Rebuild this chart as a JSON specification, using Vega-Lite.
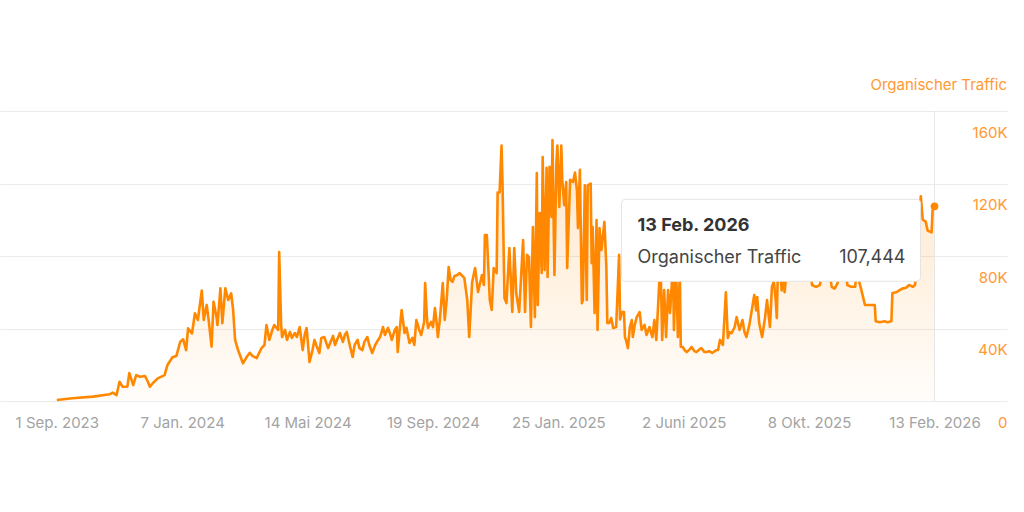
{
  "$schema": "https://vega.github.io/schema/vega-lite/v6.json",
  "width": 1007,
  "height": 290,
  "autosize": "none",
  "padding": {"left": 0, "top": 111, "right": 17, "bottom": 111},
  "background": "white",
  "title": {
    "text": "Organischer Traffic",
    "anchor": "end",
    "frame": "group",
    "color": "#ff9933",
    "font": "Inter",
    "fontSize": 15,
    "fontWeight": "normal",
    "offset": 18
  },
  "datasets": {
    "traffic": [
      {"date": "2023-09-01", "traffic": 550},
      {"date": "2023-09-17", "traffic": 1500},
      {"date": "2023-10-08", "traffic": 2400},
      {"date": "2023-10-25", "traffic": 3700},
      {"date": "2023-10-28", "traffic": 4600},
      {"date": "2023-11-01", "traffic": 3300},
      {"date": "2023-11-04", "traffic": 10600},
      {"date": "2023-11-07", "traffic": 7900},
      {"date": "2023-11-12", "traffic": 7900},
      {"date": "2023-11-14", "traffic": 15400},
      {"date": "2023-11-18", "traffic": 8800},
      {"date": "2023-11-21", "traffic": 14300},
      {"date": "2023-11-25", "traffic": 13400},
      {"date": "2023-11-30", "traffic": 13800},
      {"date": "2023-12-03", "traffic": 10600},
      {"date": "2023-12-05", "traffic": 7900},
      {"date": "2023-12-08", "traffic": 9800},
      {"date": "2023-12-13", "traffic": 12500},
      {"date": "2023-12-20", "traffic": 14300},
      {"date": "2023-12-23", "traffic": 19900},
      {"date": "2023-12-28", "traffic": 24100},
      {"date": "2024-01-01", "traffic": 24800},
      {"date": "2024-01-05", "traffic": 32700},
      {"date": "2024-01-08", "traffic": 34000},
      {"date": "2024-01-11", "traffic": 28100},
      {"date": "2024-01-13", "traffic": 40100},
      {"date": "2024-01-17", "traffic": 37300},
      {"date": "2024-01-20", "traffic": 48400},
      {"date": "2024-01-23", "traffic": 44700},
      {"date": "2024-01-27", "traffic": 60900},
      {"date": "2024-01-29", "traffic": 44700},
      {"date": "2024-02-01", "traffic": 53000},
      {"date": "2024-02-03", "traffic": 44700},
      {"date": "2024-02-06", "traffic": 30000},
      {"date": "2024-02-08", "traffic": 54800},
      {"date": "2024-02-11", "traffic": 46500},
      {"date": "2024-02-12", "traffic": 41900},
      {"date": "2024-02-15", "traffic": 62200},
      {"date": "2024-02-17", "traffic": 42900},
      {"date": "2024-02-20", "traffic": 62200},
      {"date": "2024-02-23", "traffic": 55700},
      {"date": "2024-02-26", "traffic": 59400},
      {"date": "2024-02-28", "traffic": 50200},
      {"date": "2024-03-01", "traffic": 33700},
      {"date": "2024-03-04", "traffic": 28100},
      {"date": "2024-03-09", "traffic": 20800},
      {"date": "2024-03-13", "traffic": 24400},
      {"date": "2024-03-16", "traffic": 26600},
      {"date": "2024-03-19", "traffic": 24800},
      {"date": "2024-03-23", "traffic": 23700},
      {"date": "2024-03-26", "traffic": 27000},
      {"date": "2024-03-28", "traffic": 29200},
      {"date": "2024-03-31", "traffic": 30900},
      {"date": "2024-04-02", "traffic": 41900},
      {"date": "2024-04-04", "traffic": 36400},
      {"date": "2024-04-05", "traffic": 33700},
      {"date": "2024-04-08", "traffic": 39200},
      {"date": "2024-04-10", "traffic": 41900},
      {"date": "2024-04-14", "traffic": 39200},
      {"date": "2024-04-15", "traffic": 82200},
      {"date": "2024-04-17", "traffic": 41900},
      {"date": "2024-04-18", "traffic": 35300},
      {"date": "2024-04-21", "traffic": 39200},
      {"date": "2024-04-23", "traffic": 33700},
      {"date": "2024-04-26", "traffic": 38100},
      {"date": "2024-04-28", "traffic": 34800},
      {"date": "2024-05-01", "traffic": 37500},
      {"date": "2024-05-03", "traffic": 35300},
      {"date": "2024-05-06", "traffic": 40800},
      {"date": "2024-05-09", "traffic": 28100},
      {"date": "2024-05-11", "traffic": 36400},
      {"date": "2024-05-13", "traffic": 40300},
      {"date": "2024-05-16", "traffic": 21500},
      {"date": "2024-05-19", "traffic": 28100},
      {"date": "2024-05-21", "traffic": 33700},
      {"date": "2024-05-24", "traffic": 29200},
      {"date": "2024-05-26", "traffic": 26500},
      {"date": "2024-05-28", "traffic": 34800},
      {"date": "2024-05-31", "traffic": 35300},
      {"date": "2024-06-04", "traffic": 29200},
      {"date": "2024-06-06", "traffic": 32000},
      {"date": "2024-06-09", "traffic": 35900},
      {"date": "2024-06-11", "traffic": 30900},
      {"date": "2024-06-13", "traffic": 33700},
      {"date": "2024-06-16", "traffic": 37500},
      {"date": "2024-06-19", "traffic": 32600},
      {"date": "2024-06-21", "traffic": 36400},
      {"date": "2024-06-23", "traffic": 38100},
      {"date": "2024-06-26", "traffic": 30900},
      {"date": "2024-06-29", "traffic": 24300},
      {"date": "2024-07-01", "traffic": 30900},
      {"date": "2024-07-04", "traffic": 33700},
      {"date": "2024-07-06", "traffic": 29200},
      {"date": "2024-07-09", "traffic": 28100},
      {"date": "2024-07-11", "traffic": 32600},
      {"date": "2024-07-14", "traffic": 35300},
      {"date": "2024-07-16", "traffic": 30900},
      {"date": "2024-07-19", "traffic": 26500},
      {"date": "2024-07-22", "traffic": 30900},
      {"date": "2024-07-25", "traffic": 33700},
      {"date": "2024-07-27", "traffic": 35300},
      {"date": "2024-07-30", "traffic": 40800},
      {"date": "2024-08-01", "traffic": 36400},
      {"date": "2024-08-04", "traffic": 40300},
      {"date": "2024-08-06", "traffic": 37500},
      {"date": "2024-08-08", "traffic": 33700},
      {"date": "2024-08-11", "traffic": 39200},
      {"date": "2024-08-13", "traffic": 40800},
      {"date": "2024-08-14", "traffic": 27000},
      {"date": "2024-08-16", "traffic": 39200},
      {"date": "2024-08-18", "traffic": 50200},
      {"date": "2024-08-21", "traffic": 37500},
      {"date": "2024-08-23", "traffic": 40300},
      {"date": "2024-08-26", "traffic": 32000},
      {"date": "2024-08-29", "traffic": 34800},
      {"date": "2024-08-31", "traffic": 30900},
      {"date": "2024-09-02", "traffic": 44700},
      {"date": "2024-09-05", "traffic": 39200},
      {"date": "2024-09-07", "traffic": 36400},
      {"date": "2024-09-10", "traffic": 43600},
      {"date": "2024-09-11", "traffic": 65100},
      {"date": "2024-09-13", "traffic": 44700},
      {"date": "2024-09-14", "traffic": 40300},
      {"date": "2024-09-17", "traffic": 43600},
      {"date": "2024-09-19", "traffic": 40800},
      {"date": "2024-09-21", "traffic": 51300},
      {"date": "2024-09-23", "traffic": 41900},
      {"date": "2024-09-24", "traffic": 35300},
      {"date": "2024-09-26", "traffic": 44700},
      {"date": "2024-09-29", "traffic": 65100},
      {"date": "2024-10-01", "traffic": 44700},
      {"date": "2024-10-03", "traffic": 55700},
      {"date": "2024-10-05", "traffic": 73900},
      {"date": "2024-10-07", "traffic": 66800},
      {"date": "2024-10-09", "traffic": 65700},
      {"date": "2024-10-11", "traffic": 69000},
      {"date": "2024-10-14", "traffic": 69500},
      {"date": "2024-10-16", "traffic": 70600},
      {"date": "2024-10-19", "traffic": 69000},
      {"date": "2024-10-21", "traffic": 67900},
      {"date": "2024-10-24", "traffic": 55700},
      {"date": "2024-10-26", "traffic": 35300},
      {"date": "2024-10-29", "traffic": 65700},
      {"date": "2024-11-01", "traffic": 73400},
      {"date": "2024-11-04", "traffic": 60100},
      {"date": "2024-11-08", "traffic": 69500},
      {"date": "2024-11-10", "traffic": 64000},
      {"date": "2024-11-11", "traffic": 91600},
      {"date": "2024-11-13", "traffic": 91600},
      {"date": "2024-11-16", "traffic": 55700},
      {"date": "2024-11-18", "traffic": 50200},
      {"date": "2024-11-20", "traffic": 73400},
      {"date": "2024-11-23", "traffic": 70600},
      {"date": "2024-11-24", "traffic": 115000},
      {"date": "2024-11-26", "traffic": 115000},
      {"date": "2024-11-28", "traffic": 141000},
      {"date": "2024-11-29", "traffic": 120000},
      {"date": "2024-12-01", "traffic": 56800},
      {"date": "2024-12-03", "traffic": 54000},
      {"date": "2024-12-06", "traffic": 84400},
      {"date": "2024-12-09", "traffic": 49100},
      {"date": "2024-12-11", "traffic": 84400},
      {"date": "2024-12-13", "traffic": 59600},
      {"date": "2024-12-16", "traffic": 49100},
      {"date": "2024-12-20", "traffic": 88800},
      {"date": "2024-12-22", "traffic": 49100},
      {"date": "2024-12-24", "traffic": 80600},
      {"date": "2024-12-26", "traffic": 79400},
      {"date": "2024-12-28", "traffic": 40800},
      {"date": "2024-12-30", "traffic": 96000},
      {"date": "2025-01-01", "traffic": 46300},
      {"date": "2025-01-03", "traffic": 125800},
      {"date": "2025-01-04", "traffic": 53000},
      {"date": "2025-01-06", "traffic": 103700},
      {"date": "2025-01-08", "traffic": 70600},
      {"date": "2025-01-09", "traffic": 134600},
      {"date": "2025-01-11", "traffic": 72300},
      {"date": "2025-01-13", "traffic": 128600},
      {"date": "2025-01-14", "traffic": 68400},
      {"date": "2025-01-16", "traffic": 129200},
      {"date": "2025-01-18", "traffic": 101500},
      {"date": "2025-01-19", "traffic": 144000},
      {"date": "2025-01-21", "traffic": 69500},
      {"date": "2025-01-23", "traffic": 131300},
      {"date": "2025-01-24", "traffic": 141000},
      {"date": "2025-01-26", "traffic": 107000},
      {"date": "2025-01-28", "traffic": 141000},
      {"date": "2025-01-29", "traffic": 122000},
      {"date": "2025-01-31", "traffic": 108000},
      {"date": "2025-02-02", "traffic": 120800},
      {"date": "2025-02-03", "traffic": 73400},
      {"date": "2025-02-06", "traffic": 122000},
      {"date": "2025-02-09", "traffic": 120800},
      {"date": "2025-02-11", "traffic": 126000},
      {"date": "2025-02-13", "traffic": 116000},
      {"date": "2025-02-14", "traffic": 95400},
      {"date": "2025-02-16", "traffic": 127500},
      {"date": "2025-02-18", "traffic": 54000},
      {"date": "2025-02-19", "traffic": 55700},
      {"date": "2025-02-21", "traffic": 119000},
      {"date": "2025-02-23", "traffic": 55700},
      {"date": "2025-02-24", "traffic": 119000},
      {"date": "2025-02-27", "traffic": 120000},
      {"date": "2025-02-28", "traffic": 76000},
      {"date": "2025-03-01", "traffic": 96000},
      {"date": "2025-03-03", "traffic": 48600},
      {"date": "2025-03-05", "traffic": 99900},
      {"date": "2025-03-06", "traffic": 39200},
      {"date": "2025-03-08", "traffic": 95400},
      {"date": "2025-03-10", "traffic": 83300},
      {"date": "2025-03-11", "traffic": 88800},
      {"date": "2025-03-13", "traffic": 98800},
      {"date": "2025-03-15", "traffic": 73900},
      {"date": "2025-03-16", "traffic": 43000},
      {"date": "2025-03-18", "traffic": 43000},
      {"date": "2025-03-20", "traffic": 45800},
      {"date": "2025-03-22", "traffic": 40300},
      {"date": "2025-03-25", "traffic": 40800},
      {"date": "2025-03-28", "traffic": 80600},
      {"date": "2025-03-29", "traffic": 45000},
      {"date": "2025-03-31", "traffic": 49100},
      {"date": "2025-04-02", "traffic": 49100},
      {"date": "2025-04-03", "traffic": 35300},
      {"date": "2025-04-04", "traffic": 33700},
      {"date": "2025-04-06", "traffic": 29200},
      {"date": "2025-04-08", "traffic": 40800},
      {"date": "2025-04-10", "traffic": 44700},
      {"date": "2025-04-11", "traffic": 35300},
      {"date": "2025-04-13", "traffic": 42000},
      {"date": "2025-04-15", "traffic": 46300},
      {"date": "2025-04-18", "traffic": 49100},
      {"date": "2025-04-20", "traffic": 39200},
      {"date": "2025-04-23", "traffic": 42000},
      {"date": "2025-04-25", "traffic": 36400},
      {"date": "2025-04-28", "traffic": 40800},
      {"date": "2025-05-01", "traffic": 35300},
      {"date": "2025-05-03", "traffic": 44700},
      {"date": "2025-05-05", "traffic": 33700},
      {"date": "2025-05-08", "traffic": 65000},
      {"date": "2025-05-09", "traffic": 85000},
      {"date": "2025-05-11", "traffic": 33700},
      {"date": "2025-05-13", "traffic": 61200},
      {"date": "2025-05-15", "traffic": 35300},
      {"date": "2025-05-17", "traffic": 61200},
      {"date": "2025-05-19", "traffic": 48600},
      {"date": "2025-05-22", "traffic": 75000},
      {"date": "2025-05-23", "traffic": 39200},
      {"date": "2025-05-25", "traffic": 78000},
      {"date": "2025-05-27", "traffic": 35300},
      {"date": "2025-05-29", "traffic": 72000},
      {"date": "2025-05-30", "traffic": 30000},
      {"date": "2025-06-01", "traffic": 29800},
      {"date": "2025-06-03", "traffic": 28000},
      {"date": "2025-06-05", "traffic": 27000},
      {"date": "2025-06-08", "traffic": 28500},
      {"date": "2025-06-10", "traffic": 29800},
      {"date": "2025-06-13", "traffic": 27500},
      {"date": "2025-06-15", "traffic": 27000},
      {"date": "2025-06-18", "traffic": 28500},
      {"date": "2025-06-20", "traffic": 29200},
      {"date": "2025-06-23", "traffic": 27000},
      {"date": "2025-06-25", "traffic": 27000},
      {"date": "2025-06-28", "traffic": 27500},
      {"date": "2025-07-01", "traffic": 26500},
      {"date": "2025-07-05", "traffic": 28000},
      {"date": "2025-07-07", "traffic": 28100},
      {"date": "2025-07-09", "traffic": 33700},
      {"date": "2025-07-12", "traffic": 30900},
      {"date": "2025-07-15", "traffic": 60000},
      {"date": "2025-07-17", "traffic": 34800},
      {"date": "2025-07-19", "traffic": 38000},
      {"date": "2025-07-21", "traffic": 37500},
      {"date": "2025-07-24", "traffic": 40800},
      {"date": "2025-07-26", "traffic": 46300},
      {"date": "2025-07-29", "traffic": 39200},
      {"date": "2025-08-01", "traffic": 44700},
      {"date": "2025-08-03", "traffic": 38000},
      {"date": "2025-08-05", "traffic": 35300},
      {"date": "2025-08-08", "traffic": 42000},
      {"date": "2025-08-10", "traffic": 48600},
      {"date": "2025-08-13", "traffic": 58500},
      {"date": "2025-08-15", "traffic": 50000},
      {"date": "2025-08-16", "traffic": 57400},
      {"date": "2025-08-18", "traffic": 43000},
      {"date": "2025-08-21", "traffic": 35300},
      {"date": "2025-08-24", "traffic": 46000},
      {"date": "2025-08-26", "traffic": 55700},
      {"date": "2025-08-29", "traffic": 40800},
      {"date": "2025-08-31", "traffic": 62900},
      {"date": "2025-09-02", "traffic": 66000},
      {"date": "2025-09-04", "traffic": 55000},
      {"date": "2025-09-05", "traffic": 45800},
      {"date": "2025-09-06", "traffic": 70000},
      {"date": "2025-09-08", "traffic": 75000},
      {"date": "2025-09-10", "traffic": 61000},
      {"date": "2025-09-11", "traffic": 72000},
      {"date": "2025-09-13", "traffic": 60000},
      {"date": "2025-09-16", "traffic": 78000},
      {"date": "2025-09-20", "traffic": 80000},
      {"date": "2025-09-24", "traffic": 76000},
      {"date": "2025-09-28", "traffic": 82000},
      {"date": "2025-10-03", "traffic": 78000},
      {"date": "2025-10-08", "traffic": 80000},
      {"date": "2025-10-11", "traffic": 64000},
      {"date": "2025-10-15", "traffic": 63000},
      {"date": "2025-10-19", "traffic": 64000},
      {"date": "2025-10-23", "traffic": 78000},
      {"date": "2025-10-27", "traffic": 80000},
      {"date": "2025-10-31", "traffic": 63000},
      {"date": "2025-11-03", "traffic": 62000},
      {"date": "2025-11-06", "traffic": 65000},
      {"date": "2025-11-10", "traffic": 78000},
      {"date": "2025-11-13", "traffic": 80000},
      {"date": "2025-11-16", "traffic": 64000},
      {"date": "2025-11-20", "traffic": 63000},
      {"date": "2025-11-24", "traffic": 63000},
      {"date": "2025-11-26", "traffic": 75000},
      {"date": "2025-11-28", "traffic": 66000},
      {"date": "2025-11-30", "traffic": 62000},
      {"date": "2025-12-04", "traffic": 53000},
      {"date": "2025-12-09", "traffic": 53000},
      {"date": "2025-12-14", "traffic": 53000},
      {"date": "2025-12-15", "traffic": 44000},
      {"date": "2025-12-19", "traffic": 43500},
      {"date": "2025-12-24", "traffic": 44000},
      {"date": "2025-12-27", "traffic": 43500},
      {"date": "2025-12-31", "traffic": 44000},
      {"date": "2026-01-01", "traffic": 59600},
      {"date": "2026-01-05", "traffic": 60000},
      {"date": "2026-01-08", "traffic": 61000},
      {"date": "2026-01-11", "traffic": 62000},
      {"date": "2026-01-15", "traffic": 62500},
      {"date": "2026-01-18", "traffic": 64000},
      {"date": "2026-01-22", "traffic": 63000},
      {"date": "2026-01-24", "traffic": 64000},
      {"date": "2026-01-26", "traffic": 72000},
      {"date": "2026-01-28", "traffic": 95000},
      {"date": "2026-01-30", "traffic": 113000},
      {"date": "2026-02-01", "traffic": 100000},
      {"date": "2026-02-04", "traffic": 99000},
      {"date": "2026-02-06", "traffic": 94000},
      {"date": "2026-02-10", "traffic": 93000},
      {"date": "2026-02-11", "traffic": 105000},
      {"date": "2026-02-13", "traffic": 107444}
    ],
    "tip": [
      {"date": "2026-02-13", "label": "13 Feb. 2026", "series": "Organischer Traffic", "traffic": 107444}
    ]
  },
  "encoding": {
    "x": {
      "field": "date",
      "type": "temporal",
      "title": null,
      "scale": {
        "type": "utc",
        "domain": [
          {"year": 2023, "month": 7, "date": 5, "utc": true},
          {"year": 2026, "month": 4, "date": 28, "utc": true}
        ]
      },
      "axis": {
        "values": [
          {"year": 2023, "month": 9, "date": 1, "utc": true},
          {"year": 2024, "month": 1, "date": 7, "utc": true},
          {"year": 2024, "month": 5, "date": 14, "utc": true},
          {"year": 2024, "month": 9, "date": 19, "utc": true},
          {"year": 2025, "month": 1, "date": 25, "utc": true},
          {"year": 2025, "month": 6, "date": 2, "utc": true},
          {"year": 2025, "month": 10, "date": 8, "utc": true},
          {"year": 2026, "month": 2, "date": 13, "utc": true}
        ],
        "labelExpr": "utcdate(datum.value) + ' ' + ['Jan.','Feb.','März','Apr.','Mai','Juni','Juli','Aug.','Sep.','Okt.','Nov.','Dez.'][utcmonth(datum.value)] + ' ' + utcyear(datum.value)",
        "grid": false,
        "domain": false,
        "ticks": false,
        "tickSize": 0,
        "labelPadding": 21,
        "labelBaseline": "middle",
        "labelFont": "Inter",
        "labelFontSize": 15,
        "labelColor": "#a3a3a3",
        "labelFlush": false,
        "labelOverlap": false
      }
    },
    "y": {
      "field": "traffic",
      "type": "quantitative",
      "title": null,
      "scale": {"domain": [0, 160000], "nice": false},
      "axis": {
        "orient": "right",
        "values": [0, 40000, 80000, 120000, 160000],
        "labelExpr": "datum.value == 0 ? '0' : (datum.value / 1000) + 'K'",
        "grid": true,
        "gridColor": "#ebebeb",
        "gridWidth": 1,
        "domain": false,
        "ticks": false,
        "tickSize": 0,
        "labelPadding": 0,
        "labelAlign": "right",
        "labelBaseline": "middle",
        "labelOffset": 21,
        "labelFont": "Inter",
        "labelFontSize": 15,
        "labelColor": "#ff9933",
        "labelFlush": false,
        "labelOverlap": false
      }
    }
  },
  "layer": [
    {
      "data": {"name": "traffic"},
      "mark": {
        "type": "area",
        "color": {
          "gradient": "linear",
          "x1": 0, "y1": 0, "x2": 0, "y2": 1,
          "stops": [
            {"offset": 0, "color": "rgba(255,140,0,0.22)"},
            {"offset": 1, "color": "rgba(255,140,0,0.02)"}
          ]
        }
      }
    },
    {
      "data": {"name": "traffic"},
      "mark": {"type": "line", "color": "#ff8800", "strokeWidth": 2.6, "strokeJoin": "round"}
    },
    {
      "data": {"name": "tip"},
      "mark": {"type": "rule", "color": "#e6e6e6", "strokeWidth": 1},
      "encoding": {
        "y": {"datum": 0},
        "y2": {"datum": 160000}
      }
    },
    {
      "data": {"name": "tip"},
      "mark": {
        "type": "rect",
        "fill": "white",
        "stroke": "#e4e4e4",
        "strokeWidth": 1,
        "cornerRadius": 4,
        "xOffset": -313,
        "x2Offset": -14,
        "yOffset": -7,
        "y2Offset": 75
      },
      "encoding": {
        "x2": {"field": "date"},
        "y2": {"field": "traffic"}
      }
    },
    {
      "data": {"name": "tip"},
      "mark": {
        "type": "text",
        "align": "left",
        "baseline": "alphabetic",
        "dx": -297,
        "dy": 25,
        "font": "Inter",
        "fontSize": 18,
        "fontWeight": "bold",
        "color": "#333333"
      },
      "encoding": {"text": {"field": "label"}}
    },
    {
      "data": {"name": "tip"},
      "mark": {
        "type": "text",
        "align": "left",
        "baseline": "alphabetic",
        "dx": -297,
        "dy": 57,
        "font": "Inter",
        "fontSize": 18,
        "color": "#444444"
      },
      "encoding": {"text": {"field": "series"}}
    },
    {
      "data": {"name": "tip"},
      "mark": {
        "type": "text",
        "align": "right",
        "baseline": "alphabetic",
        "dx": -29,
        "dy": 57,
        "font": "Inter",
        "fontSize": 18,
        "color": "#444444"
      },
      "encoding": {"text": {"field": "traffic", "type": "quantitative", "format": ",d"}}
    },
    {
      "data": {"name": "tip"},
      "mark": {"type": "point", "filled": true, "size": 60, "color": "#ff8800", "opacity": 1}
    }
  ],
  "config": {"view": {"stroke": null}}
}
